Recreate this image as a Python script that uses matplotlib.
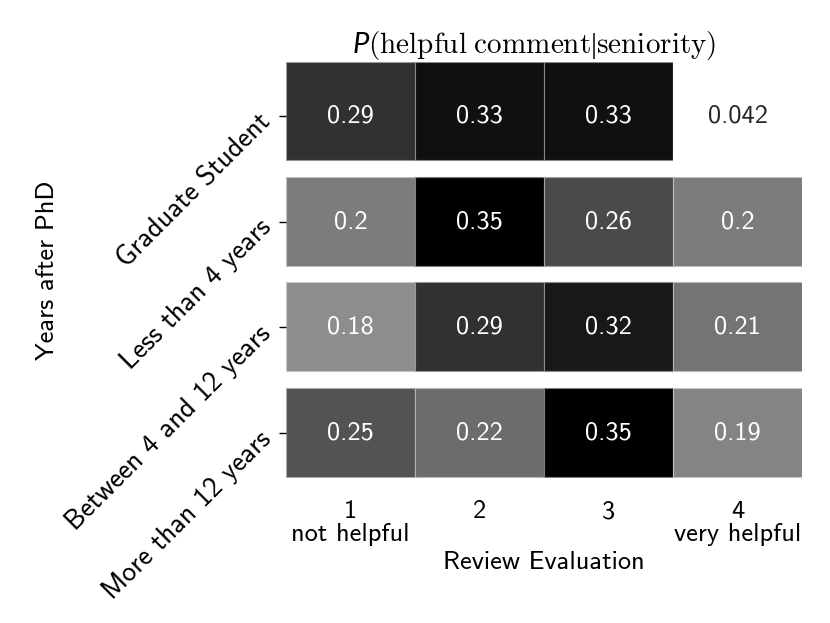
import numpy as np
import matplotlib
matplotlib.use('Agg')
import matplotlib.pyplot as plt
from matplotlib import colors as mcolors

plt.rcParams['font.family'] = ['cmss10', 'DejaVu Sans']
plt.rcParams['axes.unicode_minus'] = False
plt.rcParams['mathtext.fontset'] = 'custom'
plt.rcParams['mathtext.rm'] = 'cmr10'
plt.rcParams['mathtext.it'] = 'Lato:italic'
plt.rcParams['mathtext.cal'] = 'Liberation Serif'

seniority = ['Graduate Student', 'Less than 4 years',
             'Between 4 and 12 years', 'More than 12 years']
ratings = ['1\nnot helpful', '2', '3', '4\nvery helpful']
probs = np.array([
    [0.29, 0.33, 0.33, 0.042],
    [0.20, 0.35, 0.26, 0.20],
    [0.18, 0.29, 0.32, 0.21],
    [0.25, 0.22, 0.35, 0.19],
])
labels = [['0.29', '0.33', '0.33', '0.042'],
          ['0.2', '0.35', '0.26', '0.2'],
          ['0.18', '0.29', '0.32', '0.21'],
          ['0.25', '0.22', '0.35', '0.19']]

fs = 19

fig = plt.figure(figsize=(8.3, 6.23), dpi=100)
ax = fig.add_axes([0.3446, 0.2327, 0.6217, 0.6678])

cmap = plt.get_cmap('gray_r')
norm = mcolors.Normalize(vmin=probs.min(), vmax=probs.max())


def rel_lum(c):
    rgb = np.array(c[:3])
    rgb = np.where(rgb <= 0.03928, rgb / 12.92, ((rgb + 0.055) / 1.055) ** 2.4)
    return 0.2126 * rgb[0] + 0.7152 * rgb[1] + 0.0722 * rgb[2]


for i in range(len(seniority)):
    top = 0.511 if i == 0 else 0.426
    for j in range(len(ratings)):
        c = np.array(cmap(norm(probs[i, j])))
        edge = c * 0.5 + 0.5
        edge[3] = 1
        ax.barh(i - top, 1, height=top + 0.416, left=j, align='edge',
                color=c, edgecolor=edge, linewidth=0.8)
        tc = '#262626' if rel_lum(c) > 0.408 else 'white'
        ax.text(j + 0.5, i, labels[i][j], ha='center', va='center',
                fontsize=fs, color=tc)

ax.set_xlim(0, 4)
ax.set_ylim(3.426, -0.511)
for s in ax.spines.values():
    s.set_visible(False)

ax.set_xticks(np.arange(4) + 0.5)
ax.set_xticklabels(ratings, fontsize=fs, linespacing=1.0)
ax.tick_params(axis='x', length=0, pad=16)
ax.set_yticks(np.arange(4))
ax.set_yticklabels(seniority, fontsize=20, rotation=45, ha='right',
                   rotation_mode='anchor')
ax.tick_params(axis='y', length=5, width=1, pad=10)

ax.set_xlabel('Review Evaluation', fontsize=fs, va='center')
ax.xaxis.set_label_coords(0.5, -0.202)
ax.set_ylabel('Years after PhD', fontsize=fs, va='center')
ax.yaxis.set_label_coords(-0.463, 0.5)
ax.set_title(r'$P\mathrm{(helpful\ comment}\mathcal{|}\mathrm{seniority)}$',
             fontsize=21, pad=5, x=0.48)

fig.savefig('out.png', dpi=100)
